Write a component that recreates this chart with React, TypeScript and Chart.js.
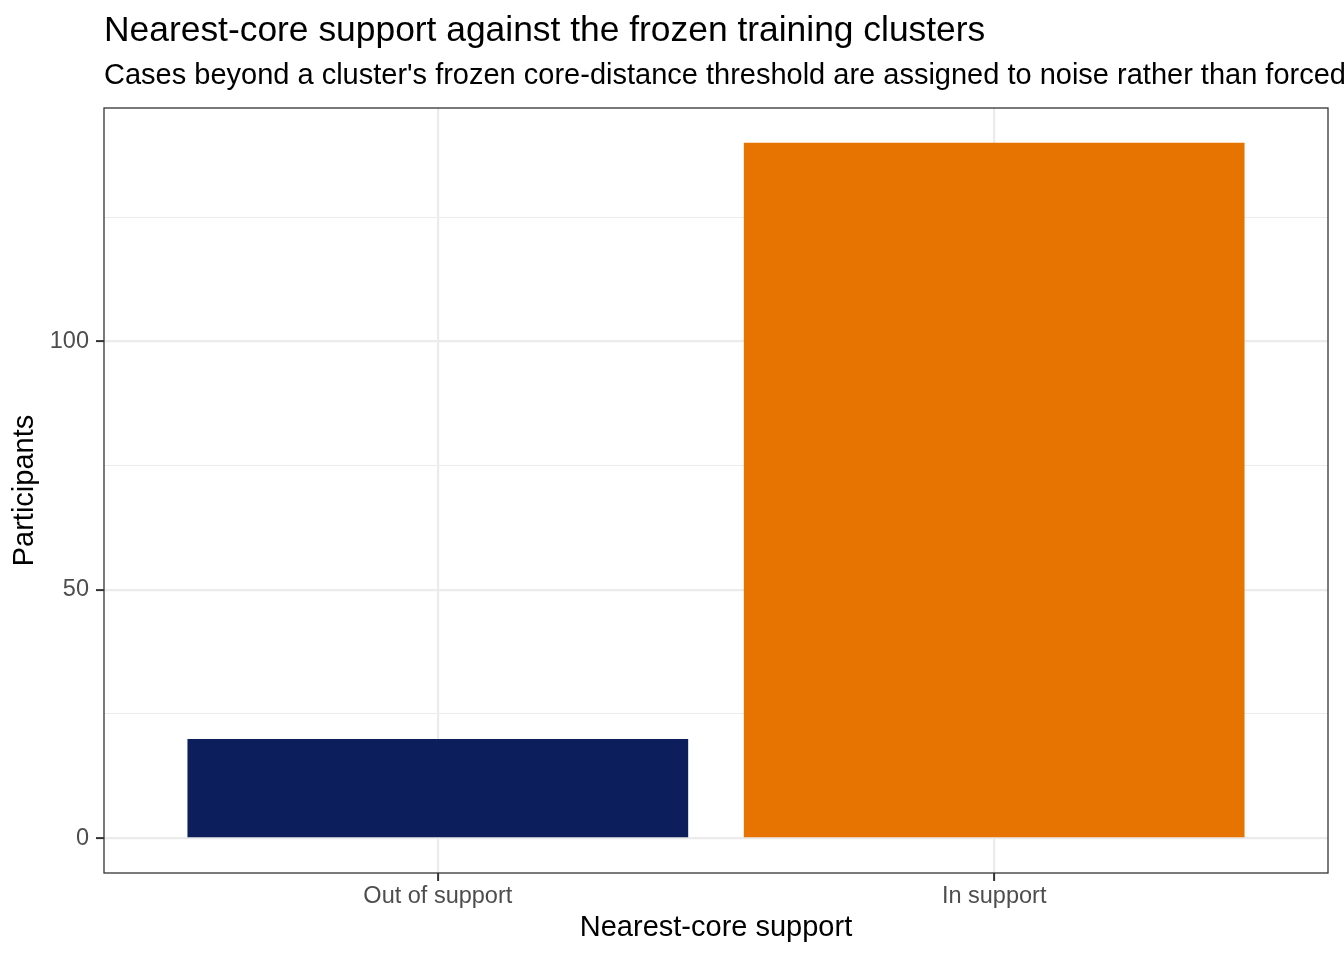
import { useEffect, useRef } from "react";
import { Chart, registerables } from "chart.js";
import type { Plugin } from "chart.js";

Chart.register(...registerables);

// values
const categories = ["Out of support", "In support"];
const participants = [20, 140];
const barColors = ["#0c1f5c", "#e87400"];
const majorTicks = [0, 50, 100];

const TITLE = "Nearest-core support against the frozen training clusters";
const SUBTITLE =
  "Cases beyond a cluster's frozen core-distance threshold are assigned to noise rather than forced";

const FONT = '"Liberation Sans", Arial, Helvetica, sans-serif';

// ggplot-ish title block + panel border, drawn relative to the chart area
const panelPlugin: Plugin<"bar"> = {
  id: "panelDecor",
  afterDraw(chart) {
    const { ctx, chartArea } = chart;
    ctx.save();
    ctx.fillStyle = "#000000";
    ctx.textAlign = "left";
    ctx.textBaseline = "alphabetic";
    ctx.font = `35.4px ${FONT}`;
    ctx.fillText(TITLE, chartArea.left, 41);
    ctx.font = `29px ${FONT}`;
    ctx.fillText(SUBTITLE, chartArea.left, 83.5);

    ctx.strokeStyle = "#333333";
    ctx.lineWidth = 1.3;
    ctx.strokeRect(chartArea.left, chartArea.top, chartArea.width, chartArea.height);
    ctx.restore();
  },
};

export default function App() {
  const canvasRef = useRef<HTMLCanvasElement>(null);
  const chartRef = useRef<Chart | null>(null);

  useEffect(() => {
    document.body.style.margin = "0";
    if (!canvasRef.current) return;
    const ctx = canvasRef.current.getContext("2d");
    if (!ctx) return;

    chartRef.current?.destroy();

    const isMajor = (c: any) => c.tick && majorTicks.includes(c.tick.value);

    chartRef.current = new Chart(ctx, {
      type: "bar",
      data: {
        datasets: [
          {
            data: participants.map((y, i) => ({ x: i, y })),
            backgroundColor: barColors,
            borderWidth: 0,
            barPercentage: 0.9,
            categoryPercentage: 1,
          },
        ],
      },
      options: {
        responsive: false,
        animation: false,
        devicePixelRatio: 1,
        layout: { padding: { top: 108, right: 16, left: 0, bottom: 0 } },
        plugins: {
          legend: { display: false },
          tooltip: { enabled: false },
          title: { display: false },
        },
        scales: {
          x: {
            type: "linear",
            min: -0.6,
            max: 1.6,
            offset: false,
            afterFit: (s) => {
              s.height = 87;
            },
            ticks: {
              stepSize: 1,
              includeBounds: false,
              autoSkip: false,
              maxRotation: 0,
              padding: 1,
              color: "#4d4d4d",
              font: { family: FONT, size: 23.5 },
              callback: (v) => categories[Number(v)] ?? "",
            },
            grid: {
              color: "#ebebeb",
              lineWidth: 2.2,
              offset: false,
              tickLength: 8,
              tickColor: "#333333",
              tickWidth: 2,
            },
            border: { display: false },
            title: {
              display: true,
              text: "Nearest-core support",
              color: "#000000",
              font: { family: FONT, size: 29 },
              padding: { top: 0, bottom: 14.3 },
            },
          },
          y: {
            type: "linear",
            min: -7,
            max: 147,
            afterFit: (s) => {
              s.width = 104;
            },
            ticks: {
              stepSize: 25,
              includeBounds: false,
              padding: 7,
              color: "#4d4d4d",
              font: { family: FONT, size: 23.5 },
              callback: (v) => (majorTicks.includes(Number(v)) ? String(v) : ""),
            },
            grid: {
              color: "#ebebeb",
              lineWidth: (c) => (isMajor(c) ? 2.2 : 1.1),
              tickLength: 8,
              tickColor: (c) => (isMajor(c) ? "#333333" : "rgba(0,0,0,0)"),
              tickWidth: 2,
            },
            border: { display: false },
            title: {
              display: true,
              text: "Participants",
              color: "#000000",
              font: { family: FONT, size: 29 },
              padding: { top: 7.6, bottom: 0 },
            },
          },
        },
      },
      plugins: [panelPlugin],
    });

    return () => {
      chartRef.current?.destroy();
      chartRef.current = null;
    };
  }, []);

  return (
    <div style={{ width: 1344, height: 960, background: "#ffffff" }}>
      <canvas ref={canvasRef} width={1344} height={960} style={{ display: "block" }} />
    </div>
  );
}
